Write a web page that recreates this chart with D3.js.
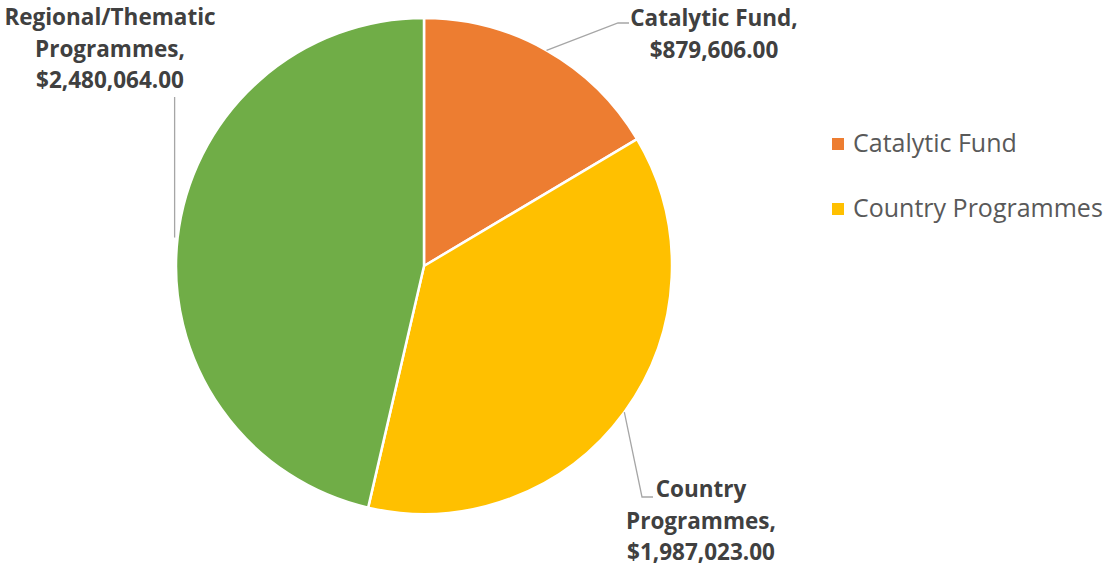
<!DOCTYPE html>
<html>
<head>
<meta charset="utf-8">
<script src="https://cdn.jsdelivr.net/npm/d3@7"></script>
<style>
  body { margin: 0; background: #fff; }
  svg { display: block; font-family: "Open Sans", sans-serif; }
</style>
</head>
<body>
<svg id="chart"></svg>
<script>
var categories = ["Catalytic Fund", "Country Programmes", "Regional/Thematic Programmes"];
var amounts = [879606.00, 1987023.00, 2480064.00];
var colors = ["#ED7D31", "#FFC000", "#70AD47"];
var legendItems = ["Catalytic Fund", "Country Programmes"];

// label layout: lines of text and where each label sits
var labelLines = [
    ["Catalytic Fund,", "$879,606.00"],
    ["Country", "Programmes,", "$1,987,023.00"],
    ["Regional/Thematic", "Programmes,", "$2,480,064.00"]
];
var labelAnchors = [
    {x: 714, y: 26},
    {x: 701, y: 497},
    {x: 110, y: 25}
];

renderChart();

function renderChart(){
    var width = 1110, height = 570;
    var cx = 424, cy = 266, radius = 248;
    var chart = d3.select("#chart").attr("width", width).attr("height", height);

    var data = categories.map(function(name, i){
        return {name: name, value: amounts[i], color: colors[i], lines: labelLines[i], anchor: labelAnchors[i]};
    });

    var pie = d3.pie().sort(null).value(function(d){ return d.value; });
    var arc = d3.arc().innerRadius(0).outerRadius(radius);
    var arcs = pie(data);

    var pieGroup = chart.append("g").attr("transform", `translate(${cx}, ${cy})`);
    pieGroup.selectAll("path")
        .data(arcs)
        .enter()
        .append("path")
        .attr("d", arc)
        .attr("fill", function(d){ return d.data.color; })
        .attr("stroke", "#fff")
        .attr("stroke-width", 2.5)
        .attr("stroke-linejoin", "round");

    attachLeaders(chart, arcs, cx, cy, radius);
    attachLabels(chart, data);
    attachLegend(chart);
}

function attachLeaders(chart, arcs, cx, cy, radius){
    // point on (or just outside) the rim, at the middle of each slice
    function rim(a, r){
        var angle = (a.startAngle + a.endAngle) / 2;
        return [cx + r * Math.sin(angle), cy - r * Math.cos(angle)];
    }
    var p0 = rim(arcs[0], radius);
    var p1 = rim(arcs[1], radius);
    var p2 = rim(arcs[2], radius + 3);
    var paths = [
        [p0, [618, 23], [629, 23]],
        [p1, [642, 497], [653, 497]],
        [p2, [p2[0], 97]]
    ];
    chart.append("g").selectAll("path")
        .data(paths)
        .enter()
        .append("path")
        .attr("d", function(d){ return d3.line()(d); })
        .attr("fill", "none")
        .attr("stroke", "#A6A6A6")
        .attr("stroke-width", 1.3);
}

function attachLabels(chart, data){
    var label = chart.append("g").selectAll("text")
        .data(data)
        .enter()
        .append("text")
        .attr("text-anchor", "middle")
        .attr("font-size", 22.5)
        .attr("font-weight", "bold")
        .attr("fill", "#404040");
    label.selectAll("tspan")
        .data(function(d){
            return d.lines.map(function(line, i){ return {text: line, x: d.anchor.x, y: d.anchor.y + i * 31.5}; });
        })
        .enter()
        .append("tspan")
        .attr("x", function(d){ return d.x; })
        .attr("y", function(d){ return d.y; })
        .text(function(d){ return d.text; });
}

function attachLegend(chart){
    var item = chart.append("g").selectAll("g")
        .data(legendItems)
        .enter()
        .append("g")
        .attr("transform", function(d, i){ return `translate(832, ${138 + i * 65})`; });
    item.append("rect")
        .attr("width", 12)
        .attr("height", 12)
        .attr("fill", function(d){ return colors[categories.indexOf(d)]; });
    item.append("text")
        .attr("x", 21)
        .attr("y", 14)
        .attr("font-size", 25)
        .attr("fill", "#595959")
        .text(function(d){ return d; });
}
</script>
</body>
</html>
